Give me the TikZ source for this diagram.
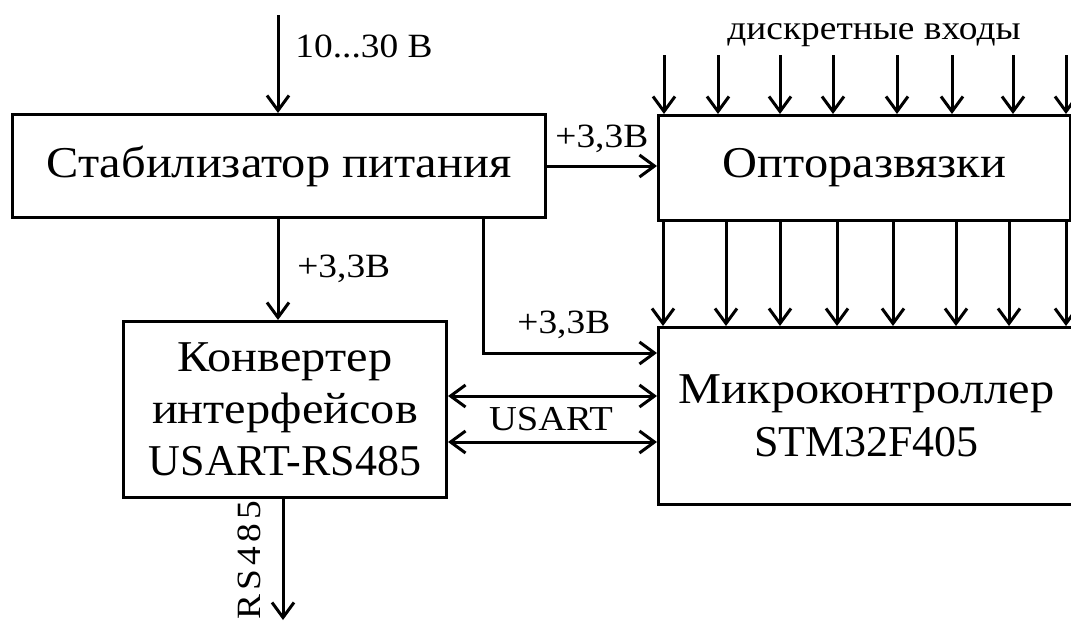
\documentclass[tikz,border=0pt]{standalone}
\usepackage{fontspec}
\setmainfont{Liberation Serif}[FakeStretch=1.1]
\newfontfamily\latn{Liberation Serif}
\usetikzlibrary{arrows.meta,calc}
\begin{document}
\begin{tikzpicture}[x=0.5pt,y=-0.5pt,
  box/.style={draw,line width=1.5pt,rectangle,inner sep=0pt,anchor=north west,align=center},
  big/.style={font=\fontsize{22}{26}\selectfont},
  lbl/.style={font=\fontsize{17}{20}\selectfont,inner sep=0pt},
  arr/.style={line width=1.5pt,-{Straight Barb[length=7.5pt,width=11pt,line width=1.5pt]}},
  dbl/.style={line width=1.5pt,{Straight Barb[length=7.5pt,width=11pt,line width=1.5pt]}-{Straight Barb[length=7.5pt,width=11pt,line width=1.5pt]}}]
\useasboundingbox (0,0) rectangle (1071,622);
\clip (0,0) rectangle (1071,622);
% boxes
\node[box,big,minimum width=266.5pt,minimum height=51.5pt] (stab) at (11,113) {Стабилизатор питания};
\node[box,big,minimum width=206pt,minimum height=52.5pt] (opto) at (657,114) {Опторазвязки};
\node[box,big,minimum width=161.5pt,minimum height=88pt] (conv) at (122,320) {Конвертер\\интерфейсов\\{\latn USART-RS485}};
\node[box,big,minimum width=208pt,minimum height=88.5pt,font=\fontsize{22}{26.5}\selectfont] (mcu) at (657,326) {Микроконтроллер\\{\latn STM32F405}};
% coordinates
\coordinate (vin) at (278,15);
\coordinate (p1) at (483,353);
\coordinate (rsend) at (283,620);
% power input
\draw[arr] (vin) -- (stab.north -| vin);
\node[lbl,anchor=base west] (vinl) at (295,57) {10...30 В};
% stab -> opto
\draw[arr] (stab.east) -- (stab.east -| opto.west);
\node[lbl,anchor=base west] (l1) at (555,147) {+3,3В};
% stab -> conv
\draw[arr] (stab.south -| vin) -- (conv.north -| vin);
\node[lbl,anchor=base west] (l2) at (297,277) {+3,3В};
% stab -> mcu
\draw[arr] (stab.south -| p1) |- (mcu.west |- p1);
\node[lbl,anchor=base west] (l3) at (517,333) {+3,3В};
% USART
\coordinate (u1) at (0,396);
\coordinate (u2) at (0,442);
\draw[dbl] (conv.east |- u1) -- (mcu.west |- u1);
\draw[dbl] (conv.east |- u2) -- (mcu.west |- u2);
\node[lbl,anchor=base,font=\fontsize{17.5}{20}\selectfont] (ul) at (551,430) {USART};
% RS485
\draw[arr] (conv.south -| rsend) -- (rsend);
\node[lbl,rotate=90,anchor=center] (rsl) at (249,560) {\addfontfeature{LetterSpace=12}RS485};
% discrete inputs
\node[lbl,anchor=base] (din) at (874,39) {дискретные входы};
\foreach \x [count=\i] in {664,718,780,833,897,952,1013,1066} {
  \coordinate (t\i) at (\x,55);
  \draw[arr] (t\i) -- (opto.north -| t\i);
}
\foreach \x [count=\i] in {663,726,780,837,893,956,1009,1066} {
  \coordinate (b\i) at (\x,0);
  \draw[arr] (opto.south -| b\i) -- (mcu.north -| b\i);
}
\end{tikzpicture}
\end{document}
